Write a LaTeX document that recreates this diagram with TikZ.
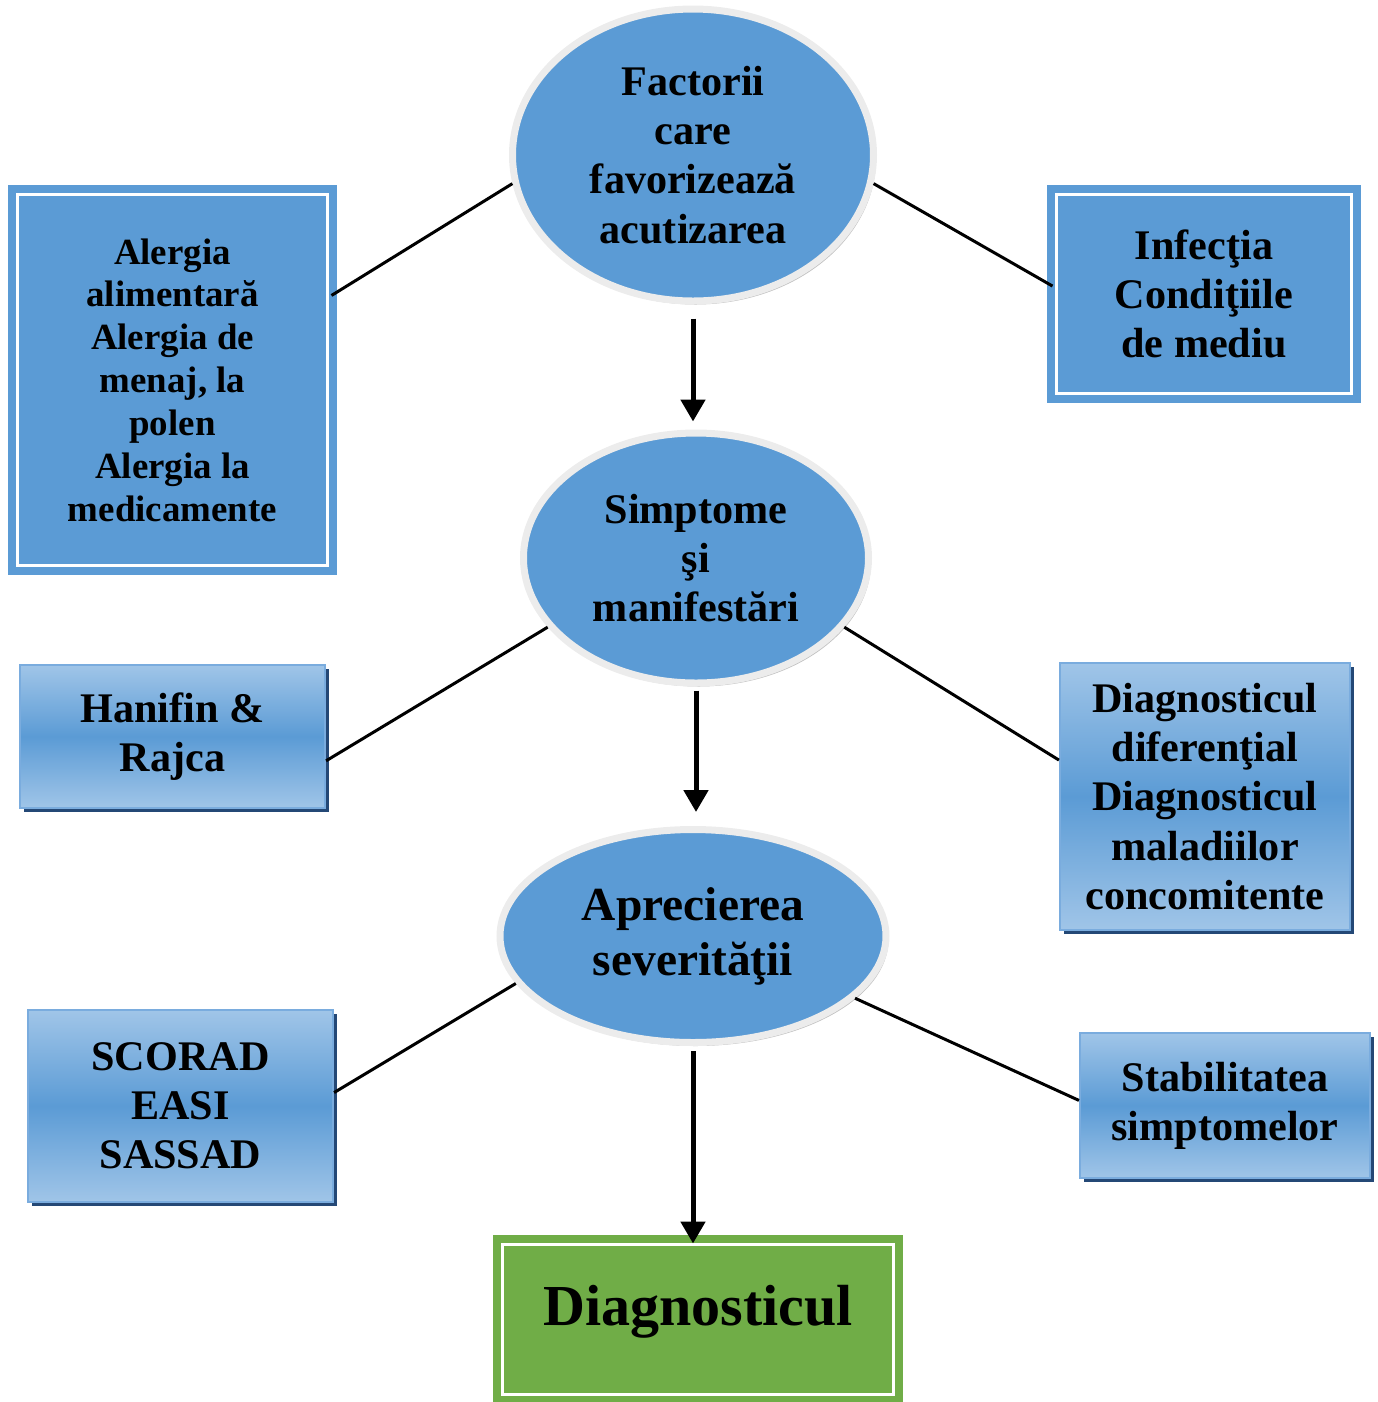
\documentclass[tikz,border=0pt]{standalone}
\usepackage{fontspec}
\setmainfont{Liberation Serif}
\usepackage{tikz}
\usetikzlibrary{arrows.meta,shapes.geometric,shadows}
\definecolor{ovalblue}{RGB}{91,155,213}
\definecolor{rimgray}{RGB}{236,236,236}
\definecolor{lightblue}{RGB}{160,197,232}
\definecolor{edgeblue}{RGB}{122,172,222}
\definecolor{shadowblue}{RGB}{36,72,118}
\definecolor{diaggreen}{RGB}{112,173,71}
\tikzset{
  % 全局字体
  every node/.append style={font=\bfseries},
  % 椭圆
  oval/.style={
    ellipse,
    draw=rimgray,
    line width=0.07cm,
    fill=ovalblue,
    inner sep=0pt,
    align=center,
    drop shadow={shadow xshift=0.025cm, shadow yshift=-0.035cm, fill=gray!70, opacity=0.7}
  },
  % 双线方框
  dbox/.style={
    rectangle,
    draw=ovalblue,
    double=white,
    double distance=0.03cm,
    line width=0.08cm,
    fill=ovalblue,
    inner sep=0pt,
    align=center
  },
  % 渐变方框
  gbox/.style={
    rectangle,
    draw=edgeblue,
    line width=0.6pt,
    top color=lightblue,
    bottom color=lightblue,
    middle color=ovalblue,
    inner sep=0pt,
    align=center,
    drop shadow={shadow xshift=0.04cm, shadow yshift=-0.04cm, fill=shadowblue, opacity=1}
  },
  % 箭头样式
  arr/.style={-{Triangle[length=0.22cm, width=0.24cm]}, line width=0.05cm},
  conn/.style={line width=0.03cm},
}

\begin{document}
\begin{tikzpicture}[
        txt/.style={font=\fontsize{12}{14}\selectfont\bfseries}
    ]
        \useasboundingbox (0,0) rectangle (13.78,-14.02);

        % 中间的椭圆
        \node[oval, txt, minimum width=3.61cm, minimum height=2.92cm] (fact) at (6.93, -1.55)
            {Factorii\\care\\favorizează\\acutizarea};
        \node[oval, txt, minimum width=3.45cm, minimum height=2.50cm] (simpt) at (6.96, -5.58)
            {Simptome\\şi\\manifestări};
        \node[oval, minimum width=3.86cm, minimum height=2.13cm,
              font=\fontsize{13.5}{15.6}\selectfont\bfseries] (aprec) at (6.93, -9.36)
            {Aprecierea\\severităţii};

        % 双线方框
        \node[dbox, minimum width=3.10cm, minimum height=3.71cm,
              font=\fontsize{10.5}{12.2}\selectfont\bfseries] (alergii) at (1.725, -3.80)
            {Alergia\\alimentară\\Alergia de\\menaj, la\\polen\\Alergia la\\medicamente};
        \node[dbox, txt, minimum width=2.95cm, minimum height=1.99cm] (infect) at (12.04, -2.94)
            {Infecţia\\Condiţiile\\de mediu};

        % 渐变方框
        \node[gbox, txt, minimum width=3.05cm, minimum height=1.43cm] (hanifin) at (1.725, -7.365)
            {Hanifin \&\\Rajca};
        \node[gbox, txt, minimum width=2.90cm, minimum height=2.67cm] (diagdif) at (12.05, -7.965)
            {Diagnosticul\\diferenţial\\Diagnosticul\\maladiilor\\concomitente};
        \node[gbox, txt, minimum width=3.05cm, minimum height=1.92cm] (scorad) at (1.805, -11.06)
            {SCORAD\\EASI\\SASSAD};
        \node[gbox, txt, minimum width=2.90cm, minimum height=1.45cm] (stabil) at (12.25, -11.055)
            {Stabilitatea\\simptomelor};

        % 诊断
        \node[dbox, draw=diaggreen, fill=diaggreen, minimum width=3.91cm, minimum height=1.50cm,
              text height=0.40cm, text depth=0.28cm,
              font=\fontsize{16.5}{20}\selectfont\bfseries] (diag) at (6.98, -13.195)
            {Diagnosticul};

        % 箭头
        \draw[arr, shorten <=0.14cm, shorten >=0.08cm] (fact.south) -- (fact.south |- simpt.north);
        \draw[arr, shorten <=0.04cm, shorten >=0.14cm] (simpt.south) -- (simpt.south |- aprec.north);
        \draw[arr, shorten <=0.05cm, shorten >=-0.03cm] (aprec.south) -- (aprec.south |- diag.north);

        % 连线
        \draw[conn] (fact.189) -- (alergii.28);
        \draw[conn] (fact.351) -- (infect.177);
        \draw[conn] (simpt.205) -- (hanifin.351);
        \draw[conn] (simpt.335) -- (diagdif.166);
        \draw[conn] (aprec.195) -- (scorad.5);
        \draw[conn] (aprec.339) -- (stabil.178);
    \end{tikzpicture}
\end{document}
